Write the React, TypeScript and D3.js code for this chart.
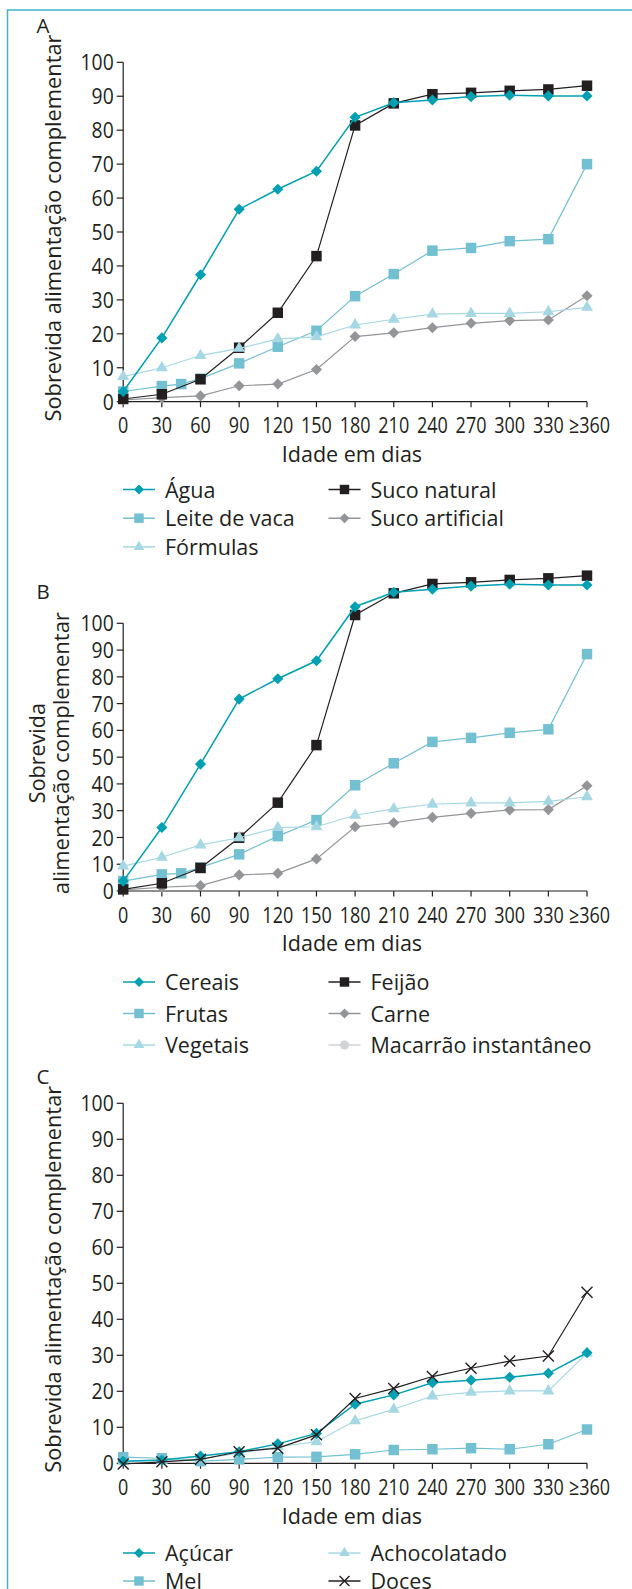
import React from 'react';
import * as d3 from 'd3';

const W = 632;
const H = 1589;
const FONT = '"Open Sans", "Noto Sans", sans-serif';
const INK = '#231f20';

// x categories (days) and tick labels
const days = [0, 30, 60, 90, 120, 150, 180, 210, 240, 270, 300, 330, 360];
const daysExtra = [0, 30, 45, 60, 90, 120, 150, 180, 210, 240, 270, 300, 330, 360];
const tickLabels = ['0', '30', '60', '90', '120', '150', '180', '210', '240', '270', '300', '330', '≥360'];
const yTicks = [0, 10, 20, 30, 40, 50, 60, 70, 80, 90, 100];

// Panel A
const agua = [3, 18.8, 37.4, 56.7, 62.6, 67.9, 83.8, 88.1, 88.9, 89.9, 90.3, 90.1, 90.1];
const sucoNatural = [0.8, 2.2, 6.6, 15.9, 26.2, 42.9, 81.4, 87.9, 90.6, 91.0, 91.6, 92.0, 93.1];
const leiteVaca = [3, 4.6, 5.2, 6.8, 11.3, 16.2, 20.9, 31.1, 37.6, 44.5, 45.3, 47.3, 47.9, 70.0];
const sucoArtificial = [0.5, 1.2, 1.7, 4.7, 5.2, 9.5, 19.2, 20.3, 21.8, 23.1, 23.9, 24.1, 31.2];
const formulas = [7.4, 10.0, 13.6, 15.7, 18.5, 19.1, 22.6, 24.3, 25.8, 26.0, 26.0, 26.5, 27.8];

// Panel B
const cereais = [3.7, 23.7, 47.4, 71.7, 79.3, 86.0, 106.2, 111.6, 112.7, 113.9, 114.6, 114.3, 114.3];
const feijao = [0.6, 2.9, 8.6, 19.9, 33.0, 54.5, 103.1, 111.2, 114.7, 115.3, 116.2, 116.8, 117.8];
const frutas = [3.7, 6.2, 6.6, 8.8, 13.7, 20.5, 26.5, 39.5, 47.7, 55.7, 57.2, 59.1, 60.4, 88.5];
const carne = [0.4, 1.4, 2.0, 6.0, 6.6, 12.0, 24.0, 25.5, 27.5, 29.0, 30.3, 30.4, 39.3];
const vegetais = [9.3, 12.6, 17.2, 19.9, 23.7, 24.0, 28.3, 30.7, 32.4, 32.9, 32.9, 33.5, 35.2];

// Panel C
const acucar = [0.6, 0.9, 2.0, 3.2, 5.4, 8.3, 16.4, 19.0, 22.4, 23.1, 23.9, 25.0, 30.7];
const mel = [1.7, 1.4, 0.6, 1.1, 1.7, 1.8, 2.5, 3.7, 3.9, 4.2, 3.9, 5.3, 9.4];
const achocolatado = [0.5, 0.8, 1.2, 2.8, 4.6, 6.0, 11.8, 15.0, 18.7, 19.7, 20.1, 20.1, 30.6];
const doces = [-0.2, 0.4, 1.1, 3.2, 4.2, 7.9, 18.0, 20.8, 24.1, 26.4, 28.4, 29.8, 47.5];

const C_TEAL = '#00a0b3';
const C_MID = '#72c0d1';
const C_LIGHT = '#a6d8e3';
const C_GRAY = '#939598';
const C_PALE = '#d1d3d4';

type MarkerType = 'diamond' | 'square' | 'triangle' | 'circle' | 'times';
interface Series { name: string; x: number[]; y: number[]; color: string; marker: MarkerType; width: number }
interface LegendItem { name: string; color: string; marker: MarkerType; col: number; row: number }

const seriesA: Series[] = [
  { name: 'Suco artificial', x: days, y: sucoArtificial, color: C_GRAY, marker: 'diamond', width: 1.2 },
  { name: 'Leite de vaca', x: daysExtra, y: leiteVaca, color: C_MID, marker: 'square', width: 1.2 },
  { name: 'Suco natural', x: days, y: sucoNatural, color: INK, marker: 'square', width: 1.2 },
  { name: 'Fórmulas', x: days, y: formulas, color: C_LIGHT, marker: 'triangle', width: 1.2 },
  { name: 'Água', x: days, y: agua, color: C_TEAL, marker: 'diamond', width: 1.5 },
];
const seriesB: Series[] = [
  { name: 'Carne', x: days, y: carne, color: C_GRAY, marker: 'diamond', width: 1.2 },
  { name: 'Frutas', x: daysExtra, y: frutas, color: C_MID, marker: 'square', width: 1.2 },
  { name: 'Feijão', x: days, y: feijao, color: INK, marker: 'square', width: 1.2 },
  { name: 'Vegetais', x: days, y: vegetais, color: C_LIGHT, marker: 'triangle', width: 1.2 },
  { name: 'Cereais', x: days, y: cereais, color: C_TEAL, marker: 'diamond', width: 1.5 },
];
const seriesC: Series[] = [
  { name: 'Mel', x: days, y: mel, color: C_MID, marker: 'square', width: 1.2 },
  { name: 'Achocolatado', x: days, y: achocolatado, color: C_LIGHT, marker: 'triangle', width: 1.2 },
  { name: 'Açúcar', x: days, y: acucar, color: C_TEAL, marker: 'diamond', width: 1.5 },
  { name: 'Doces', x: days, y: doces, color: INK, marker: 'times', width: 1.2 },
];

const legendA: LegendItem[] = [
  { name: 'Água', color: C_TEAL, marker: 'diamond', col: 0, row: 0 },
  { name: 'Leite de vaca', color: C_MID, marker: 'square', col: 0, row: 1 },
  { name: 'Fórmulas', color: C_LIGHT, marker: 'triangle', col: 0, row: 2 },
  { name: 'Suco natural', color: INK, marker: 'square', col: 1, row: 0 },
  { name: 'Suco artificial', color: C_GRAY, marker: 'diamond', col: 1, row: 1 },
];
const legendB: LegendItem[] = [
  { name: 'Cereais', color: C_TEAL, marker: 'diamond', col: 0, row: 0 },
  { name: 'Frutas', color: C_MID, marker: 'square', col: 0, row: 1 },
  { name: 'Vegetais', color: C_LIGHT, marker: 'triangle', col: 0, row: 2 },
  { name: 'Feijão', color: INK, marker: 'square', col: 1, row: 0 },
  { name: 'Carne', color: C_GRAY, marker: 'diamond', col: 1, row: 1 },
  { name: 'Macarrão instantâneo', color: C_PALE, marker: 'circle', col: 1, row: 2 },
];
const legendC: LegendItem[] = [
  { name: 'Açúcar', color: C_TEAL, marker: 'diamond', col: 0, row: 0 },
  { name: 'Mel', color: C_MID, marker: 'square', col: 0, row: 1 },
  { name: 'Achocolatado', color: C_LIGHT, marker: 'triangle', col: 1, row: 0 },
  { name: 'Doces', color: INK, marker: 'times', col: 1, row: 1 },
];

const Marker: React.FC<{ type: MarkerType; x: number; y: number; color: string; k?: number }> = ({ type, x, y, color, k = 1 }) => {
  if (type === 'diamond') {
    const p = d3.symbol(d3.symbolSquare, 62 * k * k)();
    return <path d={p || ''} transform={`translate(${x},${y}) rotate(45)`} fill={color} />;
  }
  if (type === 'square') {
    const p = d3.symbol(d3.symbolSquare, 110 * k * k)();
    return <path d={p || ''} transform={`translate(${x},${y})`} fill={color} />;
  }
  if (type === 'triangle') {
    const p = d3.symbol(d3.symbolTriangle, 62 * k * k)();
    return <path d={p || ''} transform={`translate(${x},${y})`} fill={color} />;
  }
  if (type === 'circle') {
    return <circle cx={x} cy={y} r={5 * k} fill={color} />;
  }
  const s = 5.5 * k;
  return (
    <path d={`M${x - s},${y - s}L${x + s},${y + s}M${x - s},${y + s}L${x + s},${y - s}`} stroke={color} strokeWidth={1.4} fill="none" />
  );
};

// tick labels in the source are a narrow face: squeeze them horizontally
const Squeezed: React.FC<{ x: number; y: number; sx: number; anchor: string; dy?: string; children: React.ReactNode }> = ({ x, y, sx, anchor, dy, children }) => (
  <text transform={`translate(${x},${y}) scale(${sx},1)`} dy={dy} textAnchor={anchor} fontSize={22.5} fill={INK} fontFamily={FONT}>{children}</text>
);

const x = d3.scaleLinear().domain([0, 360]).range([123.2, 587]);

interface PanelProps {
  label: string;
  labelY: number;
  top: number;
  bottom: number;
  series: Series[];
  legend: LegendItem[];
  legendY: number;
  legendStep: number;
  titleLines: { text: string; x: number; len: number }[];
}

const Panel: React.FC<PanelProps> = ({ label, labelY, top, bottom, series, legend, legendY, legendStep, titleLines }) => {
  const y = d3.scaleLinear().domain([0, 100]).range([bottom, top]);
  const line = (s: Series) =>
    d3.line<number>().x((_, i) => x(s.x[i])).y(d => y(d))(s.y) || '';
  const midY = (top + bottom) / 2 - 4;
  const legX = [123, 328.5];
  return (
    <g>
      <text x={36.5} y={labelY} fontSize={20.5} fill={INK} fontFamily={FONT}>{label}</text>
      {titleLines.map((t, i) => (
        <text key={i} transform={`translate(${t.x},${midY}) rotate(-90)`} textAnchor="middle" fontSize={21.5}
          fill={INK} fontFamily={FONT} textLength={t.len} lengthAdjust="spacingAndGlyphs">{t.text}</text>
      ))}
      {/* y axis */}
      <line x1={x(0)} x2={x(0)} y1={y(0)} y2={y(100)} stroke={INK} strokeWidth={1.2} />
      {yTicks.map(v => (
        <g key={v}>
          <line x1={x(0) - 6.5} x2={x(0)} y1={y(v)} y2={y(v)} stroke={INK} strokeWidth={1.2} />
          <Squeezed x={x(0) - 9.5} y={y(v)} dy="0.36em" sx={0.86} anchor="end">{v}</Squeezed>
        </g>
      ))}
      {/* x axis */}
      <line x1={x(0)} x2={x(360)} y1={y(0)} y2={y(0)} stroke={INK} strokeWidth={1.2} />
      {days.map((d, i) => (
        <g key={d}>
          <line x1={x(d)} x2={x(d)} y1={y(0)} y2={y(0) + 5.5} stroke={INK} strokeWidth={1.2} />
          <Squeezed x={x(d) + (i === days.length - 1 ? 2.5 : 0)} y={y(0) + 31.5} sx={0.8} anchor="middle">{tickLabels[i]}</Squeezed>
        </g>
      ))}
      <text x={352} y={y(0) + 60.3} textAnchor="middle" fontSize={21.5} fill={INK} fontFamily={FONT}>Idade em dias</text>
      {/* series */}
      {series.map(s => (
        <g key={s.name}>
          <path d={line(s)} fill="none" stroke={s.color} strokeWidth={s.width} />
          {s.y.map((v, i) => (
            <Marker key={i} type={s.marker} x={x(s.x[i])} y={y(v)} color={s.color} />
          ))}
        </g>
      ))}
      {/* legend */}
      {legend.map(l => {
        const lx = legX[l.col];
        const ly = legendY + l.row * legendStep;
        return (
          <g key={l.name}>
            <line x1={lx} x2={lx + 32} y1={ly} y2={ly} stroke={l.color} strokeWidth={1.5} />
            <Marker type={l.marker} x={lx + 16} y={ly} color={l.color} k={0.9} />
            <text x={lx + 42} y={ly + 8} fontSize={21.5} fill={INK} fontFamily={FONT}>{l.name}</text>
          </g>
        );
      })}
    </g>
  );
};

const App: React.FC = () => (
  <svg width={W} height={H} style={{ position: 'absolute', left: 0, top: 0, background: '#fff' }}>
    <rect x={7.5} y={10} width={W + 20} height={H + 20} fill="none" stroke="#3cb4ca" strokeWidth={1.5} />
    <Panel label="A" labelY={33} top={62.3} bottom={401.7} series={seriesA} legend={legendA}
      legendY={489.5} legendStep={28.7}
      titleLines={[{ text: 'Sobrevida alimentação complementar', x: 61, len: 387 }]} />
    <Panel label="B" labelY={599} top={623.3} bottom={891} series={seriesB} legend={legendB}
      legendY={982} legendStep={31.5}
      titleLines={[{ text: 'Sobrevida', x: 45, len: 100 }, { text: 'alimentação complementar', x: 69, len: 282 }]} />
    <Panel label="C" labelY={1084} top={1103.3} bottom={1463.3} series={seriesC} legend={legendC}
      legendY={1553} legendStep={28}
      titleLines={[{ text: 'Sobrevida alimentação complementar', x: 61, len: 387 }]} />
  </svg>
);

export default App;
